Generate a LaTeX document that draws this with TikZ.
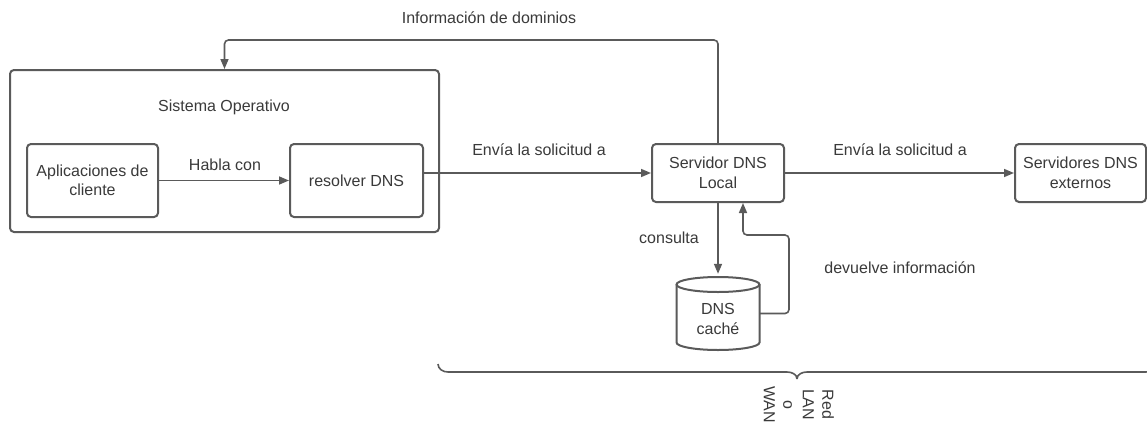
\documentclass[tikz,border=0pt]{standalone}
\usepackage{fontspec}
\setmainfont{Liberation Sans}
\usetikzlibrary{arrows.meta}
\definecolor{ln}{HTML}{5A5A5A}
\definecolor{tx}{HTML}{3A3A3A}
\begin{document}
\begin{tikzpicture}[x=1pt,y=-1pt,
  font=\fontsize{16}{19.5}\selectfont, text=tx,
  box/.style={draw=ln, line width=2pt, rounded corners=4pt, align=center, inner sep=0pt},
  conn/.style={draw=ln, line width=1.6pt, -{Triangle[length=10pt,width=8pt]}},
  lbl/.style={inner sep=0pt, align=center}]
\useasboundingbox[fill=white] (0,0) rectangle (1147,423);

% nodes
\node[box, minimum width=429pt, minimum height=162pt] (os) at (224.5,151) {};
\node[lbl] (osl) at (224,107) {Sistema Operativo};
\node[box, minimum width=131pt, minimum height=73pt] (app) at (92.5,180.5) {Aplicaciones de\\cliente};
\node[box, minimum width=133pt, minimum height=73pt] (res) at (356.5,180.5) {resolver DNS};
\node[box, minimum width=132pt, minimum height=58pt] (srv) at (718,173) {Servidor DNS\\Local};
\node[box, minimum width=131pt, minimum height=58pt] (ext) at (1080.5,173) {Servidores DNS\\externos};
\node[lbl, minimum width=83pt, minimum height=73pt] (cache) at (718,313.5) {};

% cylinder
\draw[ln, line width=2pt, fill=white]
  (676.5,284.5) -- (676.5,342.5)
  .. controls (676.5,346.6) and (695.1,350) .. (718,350)
  .. controls (740.9,350) and (759.5,346.6) .. (759.5,342.5)
  -- (759.5,284.5);
\draw[ln, line width=2pt] (718,284.5) ellipse [x radius=41.5, y radius=7.5];
\node[lbl] at (718,319) {DNS\\caché};

% connectors
\draw[conn] (app) -- (res);
\node[lbl] (l1) at (225,165) {Habla con};

\draw[conn] (res.east |- srv.west) -- (srv.west);
\node[lbl] (l2) at (539,150) {Envía la solicitud a};

\draw[conn] (srv) -- (ext);
\node[lbl] (l3) at (900,150) {Envía la solicitud a};

\draw[conn, rounded corners=4pt] (srv.north) -- ++(0,-103) -| (os.north);
\node[lbl] (l4) at (489,18) {Información de dominios};

\draw[conn, shorten >=3pt] (srv.south) -- (cache.north);
\node[lbl] (l5) at (669,238) {consulta};

\coordinate (ret2) at (789,235);
\coordinate (ret) at (743,235);
\draw[conn, rounded corners=4pt] (cache.east) -| (ret2) -- (ret) -- (ret |- srv.south);
\node[lbl] (l6) at (900,268) {devuelve información};

% brace
\coordinate (tip) at (797,379);
\draw[ln, line width=1.6pt]
  (438,364) to[out=-90,in=180] (448,372) -- (787,372) to[out=0,in=90] (tip)
  (tip) to[out=90,in=180] (807,372) -- (1146,372) to[out=0,in=-90] (1156,364);
\node[lbl, rotate=-90, anchor=west] (net) at (799,386) {Red\\LAN\\o\\WAN};
\end{tikzpicture}
\end{document}
